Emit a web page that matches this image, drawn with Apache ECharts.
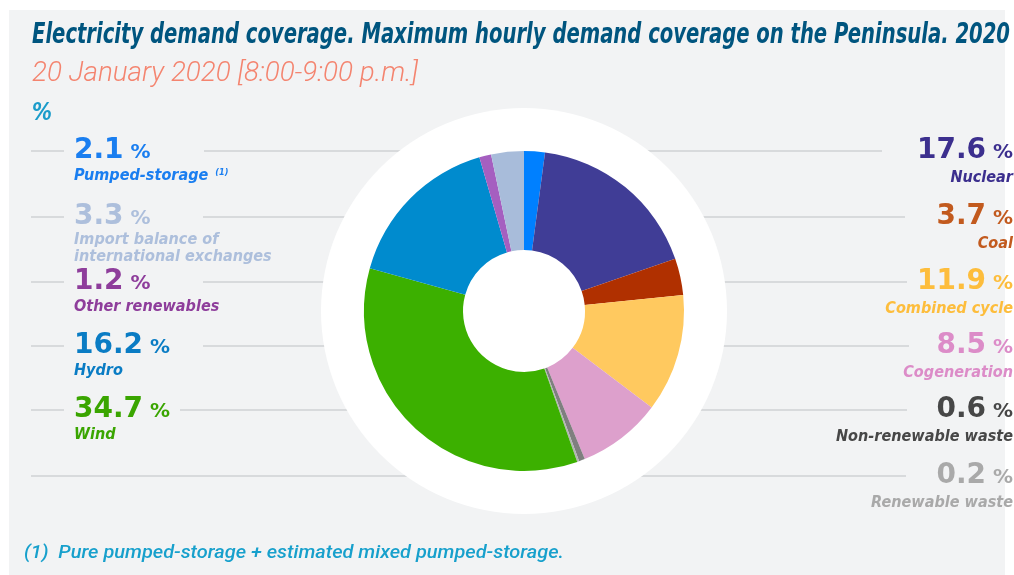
<!DOCTYPE html>
<html>
<head>
<meta charset="utf-8">
<title>Electricity demand coverage 2020</title>
<script src="https://cdn.jsdelivr.net/npm/echarts@6/dist/echarts.min.js"></script>
<style>
  html, body { margin: 0; padding: 0; background: #ffffff; }
  #chart { width: 1014px; height: 575px; }
</style>
</head>
<body>
<div id="chart"></div>
<script>
// slices, clockwise from the top
var names = ['Pumped-storage', 'Nuclear', 'Coal', 'Combined cycle', 'Cogeneration',
    'Non-renewable waste', 'Renewable waste', 'Wind', 'Hydro', 'Other renewables',
    'Import balance of international exchanges'];
var values = [2.1, 17.6, 3.7, 11.9, 8.5, 0.6, 0.2, 34.7, 16.2, 1.2, 3.3];
var labels = ['Pumped-storage', 'Nuclear', 'Coal', 'Combined cycle', 'Cogeneration',
    'Non-renewable waste', 'Renewable waste', 'Wind', 'Hydro', 'Other renewables',
    'Import balance of\ninternational exchanges'];

var sliceColors = ['#0080ff', '#403d96', '#b03000', '#ffc95f', '#dda0cc',
    '#7f7f7f', '#b4b4b4', '#3cb000', '#008bce', '#a55fc0', '#a8bcda'];
var textColors = ['#1a7ef0', '#3c2f8e', '#c25a1e', '#fdbd3c', '#dc8cc8',
    '#474747', '#a9a9a9', '#3aa500', '#0a7cc4', '#8e3d9b', '#adbfdc'];

var titleText = 'Electricity demand coverage. Maximum hourly demand coverage on the Peninsula. 2020';
var subText = '20 January 2020 [8:00-9:00 p.m.]';
var unitText = '%';
var noteText = '(1)  Pure pumped-storage + estimated mixed pumped-storage.';

// layout of the side labels (index into the arrays above)
var leftRows = [
    {idx: 0, lineY: 151, from: 204},
    {idx: 10, lineY: 217, from: 203},
    {idx: 9, lineY: 282, from: 203},
    {idx: 8, lineY: 346, from: 203},
    {idx: 7, lineY: 410, from: 180}
];
var rightRows = [
    {idx: 1, lineY: 151, to: 882},
    {idx: 2, lineY: 217, to: 905},
    {idx: 3, lineY: 282, to: 907},
    {idx: 4, lineY: 346, to: 909},
    {idx: 5, lineY: 410, to: 907},
    {idx: 6, lineY: 476, to: 906}
];

var CX = 524, CY = 311;
var LEFT_X = 74, RIGHT_X = 1013;
var NUM_SIZE = 28, PCT_SIZE = 20, LAB_SIZE = 15;
var NUM_FONT = 'bold ' + NUM_SIZE + 'px "DejaVu Sans"';
var PCT_FONT = 'bold ' + PCT_SIZE + 'px "DejaVu Sans"';
var LAB_FONT = 'italic bold ' + LAB_SIZE + 'px "DejaVu Sans Condensed"';
var LINE_COLOR = '#d8dadc';

var ctx = document.createElement('canvas').getContext('2d');
function textW(str, font) {
    ctx.font = font;
    return ctx.measureText(str).width;
}
// horizontal squeeze so the text takes the width it has in the original
function fit(str, font, width) {
    return width / textW(str, font);
}

var numScale = fit('16.2', NUM_FONT, 69);
var labScale = fit('Non-renewable waste', LAB_FONT, 177);

var elements = [];
elements.push({type: 'rect', z: 0, shape: {x: 9, y: 10, width: 996, height: 565}, style: {fill: '#f2f3f4'}});

function text(str, x, y, font, color, align, sx, extra) {
    var el = {
        type: 'text', z: 5, x: x, y: y, scaleX: sx || 1,
        style: {
            text: str, font: font, fill: color,
            align: align, verticalAlign: 'middle',
            textAlign: align, textVerticalAlign: 'middle'
        }
    };
    if (extra) {
        for (var k in extra) el.style[k] = extra[k];
    }
    elements.push(el);
}
function line(x1, x2, y) {
    elements.push({
        type: 'line', z: 1,
        shape: {x1: x1, y1: y, x2: x2, y2: y},
        style: {stroke: LINE_COLOR, lineWidth: 2}
    });
}

// value + % sign on one baseline
function addValue(i, x, lineY, align) {
    var numStr = values[i].toFixed(1);
    var base = lineY + 7;
    var numY = base - 0.26 * NUM_SIZE;
    var pctY = base - 0.26 * PCT_SIZE;
    var nw = textW(numStr, NUM_FONT) * numScale;
    var pw = textW('%', PCT_FONT) * numScale;
    var gap = 7;
    if (align === 'left') {
        text(numStr, x, numY, NUM_FONT, textColors[i], 'left', numScale);
        text('%', x + nw + gap, pctY, PCT_FONT, textColors[i], 'left', numScale);
    } else {
        text('%', x, pctY, PCT_FONT, textColors[i], 'right', numScale);
        text(numStr, x - pw - gap, numY, NUM_FONT, textColors[i], 'right', numScale);
    }
}

leftRows.forEach(function (r) {
    line(31, 64, r.lineY);
    line(r.from, CX, r.lineY);
    addValue(r.idx, LEFT_X, r.lineY, 'left');
    var lab = labels[r.idx];
    var ly = r.lineY + 25;
    if (lab.indexOf('\n') >= 0) ly = r.lineY + 32;
    text(lab, LEFT_X, ly, LAB_FONT, textColors[r.idx], 'left', labScale, {lineHeight: 17});
    if (r.idx === 0) {
        var lw = textW(lab, LAB_FONT) * labScale;
        text('(1)', LEFT_X + lw + 7, ly - 3, 'italic bold 9px "DejaVu Sans Condensed"', textColors[0], 'left', 1);
    }
});
rightRows.forEach(function (r) {
    line(CX, r.to, r.lineY);
    addValue(r.idx, RIGHT_X, r.lineY, 'right');
    text(labels[r.idx], RIGHT_X, r.lineY + 27, LAB_FONT, textColors[r.idx], 'right', labScale);
});
line(31, CX, 476);

// white disc behind the donut
elements.push({type: 'circle', z: 2, shape: {cx: CX, cy: CY, r: 203}, style: {fill: '#ffffff'}});

var TITLE_FONT = 'italic bold 28px "DejaVu Sans Condensed"';
var SUB_FONT = 'italic 300 27px Roboto';
var UNIT_FONT = 'italic bold 24px "DejaVu Sans"';
var NOTE_FONT = 'italic 500 18px Roboto';
text(titleText, 32, 36, TITLE_FONT, '#00557f', 'left', fit(titleText, TITLE_FONT, 978));
text(subText, 32, 74, SUB_FONT, '#f4846f', 'left', fit(subText, SUB_FONT, 386));
text(unitText, 32, 114, UNIT_FONT, '#1c9cca', 'left', fit(unitText, UNIT_FONT, 20));
text(noteText, 24, 553, NOTE_FONT, '#17a0cc', 'left', fit(noteText, NOTE_FONT, 540));

var chart = echarts.init(document.getElementById('chart'));
var pieData = [];
for (var i = 0; i < names.length; i++) {
    pieData.push({value: values[i], name: names[i], itemStyle: {color: sliceColors[i]}});
}

var option = {
    backgroundColor: '#ffffff',
    animation: false,
    graphic: {elements: elements},
    series: [
        {
            type: 'pie',
            z: 10,
            silent: true,
            center: [CX, CY],
            radius: [61, 160],
            startAngle: 90,
            clockwise: true,
            avoidLabelOverlap: false,
            label: {show: false},
            labelLine: {show: false},
            itemStyle: {borderWidth: 0},
            emphasis: {disabled: true},
            data: pieData
        }
    ]
};
chart.setOption(option);
</script>
</body>
</html>
